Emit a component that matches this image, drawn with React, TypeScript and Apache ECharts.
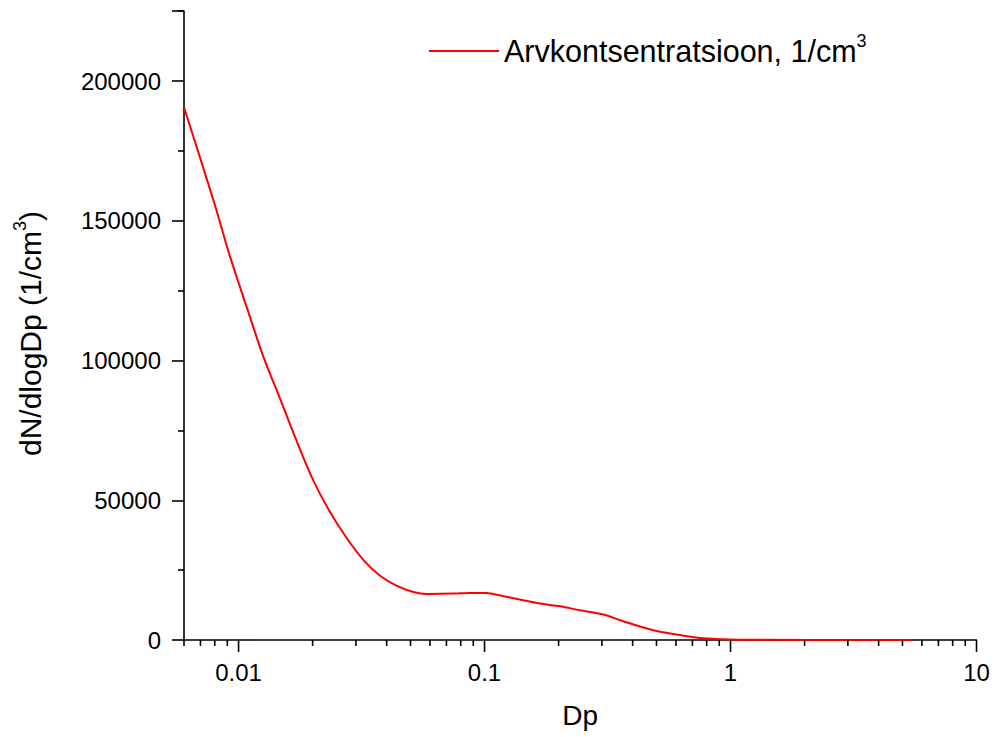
import React, { useEffect, useRef } from "react";
import * as echarts from "echarts";

// Particle diameter (Dp) and number concentration dN/dlogDp (1/cm3)
const DP = [0.006, 0.0079, 0.0092, 0.0108, 0.0126, 0.0148, 0.0172, 0.0201, 0.0236, 0.0275, 0.0322, 0.0376, 0.044, 0.0514, 0.0582, 0.0747, 0.0873, 0.102, 0.116, 0.139, 0.168, 0.203, 0.244, 0.304, 0.356, 0.416, 0.486, 0.568, 0.664, 0.775, 1.06, 5.42];
const CONC = [190600, 157400, 137600, 119000, 101500, 86000, 71300, 57200, 45600, 36500, 28600, 23000, 19400, 17200, 16500, 16600, 16850, 16800, 15900, 14460, 13030, 12070, 10640, 9100, 7070, 5180, 3500, 2320, 1360, 600, 100, 0];

const SERIES_NAME = "Arvkontsentratsioon, 1/cm{sup|3}";
const X_TITLE = "Dp";
const Y_TITLE = "dN/dlogDp (1/cm{sup|3})";

const X_MIN = 0.006;
const X_MAX = 10;
const X_TICK_VALUES = [0.01, 0.1, 1, 10];
const X_TICK_LABELS = ["0.01", "0.1", "1", "10"];
const X_MINOR_TICKS = [0.006, 0.007, 0.008, 0.009, 0.02, 0.03, 0.04, 0.05, 0.06, 0.07, 0.08, 0.09, 0.2, 0.3, 0.4, 0.5, 0.6, 0.7, 0.8, 0.9, 2, 3, 4, 5, 6, 7, 8, 9];

const Y_MIN = 0;
const Y_MAX = 225050;
const Y_INTERVAL = 50000;

const FONT = "Liberation Sans";

export default function App() {
  const ref = useRef<HTMLDivElement>(null);

  useEffect(() => {
    if (!ref.current) return;
    const chart = echarts.init(ref.current, undefined, { renderer: "svg" });

    const tickData = [
      ...X_TICK_VALUES.map((v) => [v, 0, 1]),
      ...X_MINOR_TICKS.map((v) => [v, 0, 0]),
    ];

    const supStyle = {
      fontSize: 18,
      lineHeight: 18,
      verticalAlign: "top",
      fontFamily: FONT,
      color: "#000",
    };

    const option: any = {
      animation: false,
      backgroundColor: "#fff",
      textStyle: { fontFamily: FONT },
      grid: { left: 184, right: 18.5, top: 11, bottom: 97, containLabel: false },
      legend: {
        show: true,
        data: [{ name: SERIES_NAME, icon: "rect" }],
        left: 429,
        top: 32,
        padding: 0,
        itemWidth: 70,
        itemHeight: 2,
        itemGap: 5,
        formatter: (n: string) => n,
        itemStyle: { color: "#ff0000" },
        textStyle: {
          fontSize: 30.5,
          lineHeight: 38,
          fontFamily: FONT,
          color: "#000",
          rich: { sup: supStyle },
        },
      },
      xAxis: {
        type: "log",
        logBase: 10,
        min: X_MIN,
        max: X_MAX,
        name: X_TITLE,
        nameLocation: "middle",
        nameGap: 61,
        nameTextStyle: { fontSize: 28, fontFamily: FONT, color: "#000" },
        axisLine: { show: true, onZero: false, lineStyle: { color: "#000", width: 1.6 } },
        axisTick: { show: false },
        minorTick: { show: false },
        splitLine: { show: false },
        axisLabel: {
          margin: 20,
          fontSize: 24,
          fontFamily: FONT,
          color: "#000",
          formatter: (v: number) => {
            const lv = Math.log10(v);
            for (let i = 0; i < X_TICK_VALUES.length; i++) {
              if (Math.abs(lv - Math.log10(X_TICK_VALUES[i])) < 1e-6) return X_TICK_LABELS[i];
            }
            return "";
          },
        },
      },
      yAxis: {
        type: "value",
        min: Y_MIN,
        max: Y_MAX,
        interval: Y_INTERVAL,
        name: Y_TITLE,
        nameLocation: "middle",
        nameRotate: 90,
        nameGap: 135,
        nameTextStyle: {
          fontSize: 30,
          lineHeight: 38,
          fontFamily: FONT,
          color: "#000",
          padding: [0, 16, 0, 0],
          rich: { sup: supStyle },
        },
        axisLine: { show: true, onZero: false, lineStyle: { color: "#000", width: 1.6 } },
        axisTick: { show: true, inside: false, length: 12, lineStyle: { color: "#000", width: 1.6 } },
        minorTick: { show: true, splitNumber: 2, length: 6, lineStyle: { color: "#000", width: 1.6 } },
        splitLine: { show: false },
        minorSplitLine: { show: false },
        axisLabel: {
          margin: 23,
          fontSize: 24,
          fontFamily: FONT,
          color: "#000",
          formatter: (v: number) => (v > 200000 ? "" : String(v)),
        },
      },
      series: [
        {
          name: SERIES_NAME,
          type: "line",
          data: DP.map((d, i) => [d, CONC[i]]),
          symbol: "none",
          smooth: 0.3,
          lineStyle: { color: "#ff0000", width: 2 },
          itemStyle: { color: "#ff0000" },
          clip: true,
          z: 3,
        },
        {
          name: "xticks",
          type: "custom",
          data: tickData,
          clip: false,
          silent: true,
          z: 4,
          renderItem: (_params: any, api: any) => {
            const p = api.coord([api.value(0), 0]);
            const len = api.value(2) === 1 ? 12 : 6;
            return {
              type: "line",
              shape: { x1: p[0], y1: p[1], x2: p[0], y2: p[1] + len },
              style: { stroke: "#000", lineWidth: 1.6 },
            };
          },
        },
      ],
    };

    chart.setOption(option);
    return () => chart.dispose();
  }, []);

  return (
    <div
      ref={ref}
      style={{ position: "fixed", left: 0, top: 0, width: 995, height: 737, background: "#fff" }}
    />
  );
}
